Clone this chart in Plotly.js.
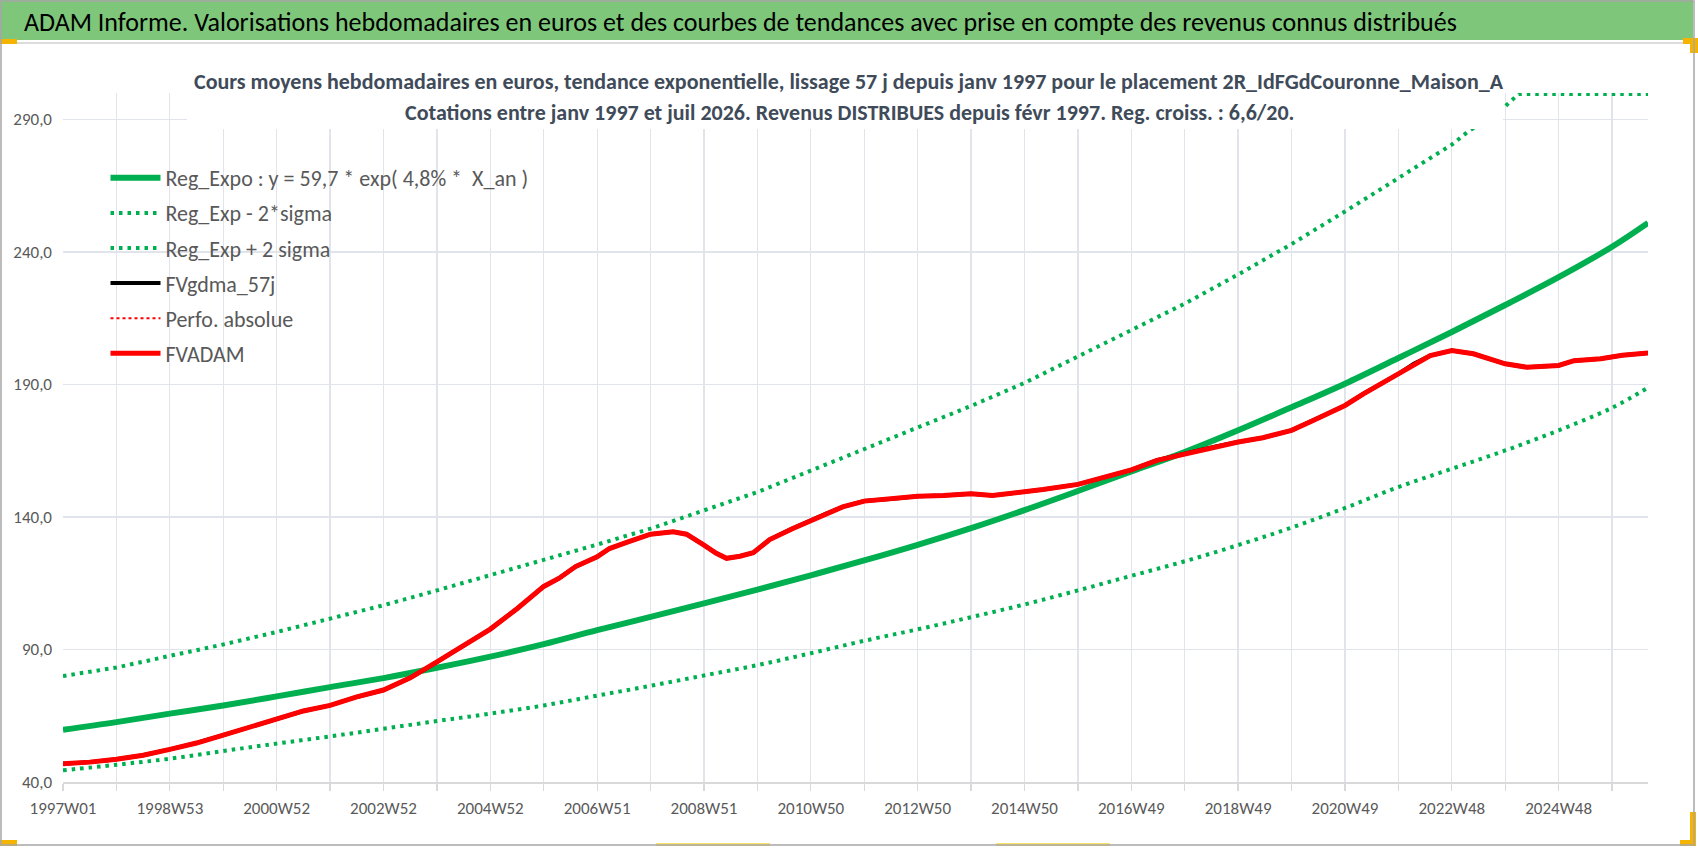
<!DOCTYPE html>
<html>
<head>
<meta charset="utf-8">
<script src="https://cdn.plot.ly/plotly-3.0.1.min.js"></script>
<style>
  html, body { margin: 0; padding: 0; background: #fff; }
  #chart { width: 1698px; height: 848px; }
</style>
</head>
<body>
<div id="chart"></div>
<script>
// x axis: one category per week since 1997W01, a label every 104 weeks
const tickLabels = ['1997W01', '1998W53', '2000W52', '2002W52', '2004W52', '2006W51', '2008W51',
   '2010W50', '2012W50', '2014W50', '2016W49', '2018W49', '2020W49', '2022W48', '2024W48'];

// trend curves, read once a year (week index)
const trendWeeks = [0, 52, 104, 156, 208, 260, 312, 364, 416, 468, 520, 572, 624, 676, 728, 780,
   832, 884, 936, 988, 1040, 1092, 1144, 1196, 1248, 1300, 1352, 1404, 1456, 1508, 1543];
const regExpo = [59.7, 62.6, 65.8, 68.9, 72.3, 75.8, 79.2, 83.1, 87.3, 92.0, 97.3, 102.3, 107.4,
   112.6, 118.0, 123.6, 129.5, 135.8, 142.6, 149.8, 157.2, 164.5, 172.7, 181.4, 190.3, 200.0,
   209.8, 220.0, 230.5, 242.0, 251.0];
const regMinus2Sigma = [44.4, 46.5, 48.8, 51.7, 54.5, 57.2, 60.1, 63.0, 65.8, 68.9, 72.6, 76.3,
   80.2, 84.1, 88.6, 93.3, 97.6, 102.2, 107.0, 112.3, 117.8, 123.3, 129.4, 136.0, 143.4, 151.3,
   158.2, 165.1, 172.7, 181.2, 188.8];

// upper band, flat where it hits the top of the axis
const upperWeeks = [0, 52, 104, 156, 208, 260, 312, 364, 416, 468, 520, 572, 624, 676, 728, 780,
   832, 884, 936, 988, 1040, 1092, 1144, 1196, 1248, 1300, 1352, 1368, 1402, 1417, 1456, 1508, 1543];
const regPlus2Sigma = [80.0, 83.2, 87.6, 91.9, 96.6, 101.6, 106.7, 112.3, 118.0, 123.6, 129.6,
   135.6, 142.5, 149.4, 157.5, 165.6, 173.8, 181.9, 190.6, 200.5, 210.5, 220.5, 231.5, 243.0,
   255.3, 267.9, 280.5, 285.5, 294.3, 299.6, 299.6, 299.6, 299.6];

// FVADAM valuation (week index / value)
const adamWeeks = [0, 26, 52, 78, 104, 130, 156, 182, 208, 234, 260, 286, 312, 338, 364, 390, 416,
   442, 468, 483, 499, 520, 532, 548, 572, 594, 607, 624, 636, 646, 659, 672, 688, 710, 728, 743,
   759, 780, 808, 832, 857, 884, 905, 936, 954, 988, 1016, 1040, 1065, 1092, 1120, 1144, 1168,
   1196, 1217, 1248, 1266, 1300, 1315, 1331, 1352, 1373, 1404, 1425, 1456, 1471, 1497, 1518, 1543];
const fvAdam = [46.9, 47.5, 48.6, 50.1, 52.3, 54.7, 57.7, 60.8, 63.8, 66.8, 68.9, 72.1, 74.7,
   79.3, 85.3, 91.3, 97.7, 105.4, 113.8, 116.9, 121.3, 125.0, 128.1, 130.3, 133.5, 134.4, 133.5,
   129.4, 126.3, 124.4, 125.2, 126.5, 131.5, 135.6, 138.8, 141.3, 143.8, 146.0, 146.9, 147.8,
   148.1, 148.8, 148.1, 149.4, 150.4, 152.3, 155.3, 157.8, 161.4, 163.9, 166.4, 168.3, 169.9,
   172.7, 176.4, 182.1, 186.5, 194.0, 197.8, 200.9, 202.8, 201.6, 197.8, 196.5, 197.2, 199.0,
   199.7, 201.0, 201.9];

const FONT = 'Calibri, Carlito, "Liberation Sans Narrow", "DejaVu Sans Condensed", sans-serif';
const W = 1698, H = 848;
const M = {l: 63, r: 50, t: 93, b: 66};

// pixel -> paper helpers for the frame decorations
function px2x(p) { return (p - M.l) / (W - M.l - M.r); }
function px2y(p) { return (H - M.b - p) / (H - M.t - M.b); }

function rect(x0, y0, x1, y1, fill, layer) {
   return {type: 'rect', xref: 'paper', yref: 'paper', layer: layer || 'above',
      x0: px2x(x0), x1: px2x(x1), y0: px2y(y1), y1: px2y(y0),
      fillcolor: fill, line: {width: 0}};
}

const GREEN = '#00b050';
const RED = '#ff0000';

const data = [
   {name: 'Reg_Expo : y = 59,7 * exp( 4,8% * \u00a0X_an )', x: trendWeeks, y: regExpo,
      line: {color: GREEN, width: 6, shape: 'spline'}, legendgroup: 'g1'},
   {name: 'Reg_Exp - 2*sigma', x: trendWeeks, y: regMinus2Sigma,
      line: {color: GREEN, width: 4, dash: '3.5px,5px', shape: 'spline'}, legendgroup: 'g2'},
   {name: 'Reg_Exp + 2 sigma', x: upperWeeks, y: regPlus2Sigma,
      line: {color: GREEN, width: 4, dash: '3.5px,5px'}, legendgroup: 'g3'},
   {name: 'FVgdma_57j', x: adamWeeks, y: fvAdam,
      line: {color: '#000000', width: 4}, legendgroup: 'g4'},
   {name: 'Perfo. absolue', x: adamWeeks, y: fvAdam,
      line: {color: RED, width: 2, dash: 'dot'}, legendgroup: 'g5'},
   {name: 'FVADAM', x: adamWeeks, y: fvAdam,
      line: {color: RED, width: 5}, legendgroup: 'g6'}
].map(t => Object.assign({type: 'scatter', mode: 'lines', hoverinfo: 'skip'}, t));

const gridColor = '#e1e4ea';
const axisColor = '#d9d9d9';

const layout = {
   width: W, height: H,
   margin: M,
   paper_bgcolor: '#ffffff',
   plot_bgcolor: '#ffffff',
   separators: ', ',
   showlegend: true,
   font: {family: FONT, color: '#595959'},
   legend: {
      x: px2x(105.5), y: px2y(157), xanchor: 'left', yanchor: 'top',
      bgcolor: 'rgba(0,0,0,0)', borderwidth: 0,
      font: {family: FONT, size: 22, color: '#595959'},
      itemwidth: 50, traceorder: 'grouped', tracegroupgap: 3.5
   },
   xaxis: {
      range: [0, 1543],
      tickmode: 'array',
      tickvals: tickLabels.map((_, i) => i * 104),
      ticktext: tickLabels,
      showgrid: true, gridcolor: gridColor, gridwidth: 1.3,
      zeroline: false,
      showline: true, linecolor: axisColor, linewidth: 2,
      ticks: 'outside', ticklen: 7, tickcolor: axisColor, tickwidth: 1.3,
      tickfont: {family: FONT, size: 17, color: '#595959'},
      ticklabelstandoff: 3,
      minor: {tickmode: 'linear', tick0: 0, dtick: 52, showgrid: true, gridcolor: gridColor,
         gridwidth: 1.3, ticks: 'outside', ticklen: 7, tickcolor: axisColor, tickwidth: 1.3}
   },
   yaxis: {
      range: [40, 300],
      tickmode: 'linear', tick0: 40, dtick: 50,
      tickformat: '.1f',
      showgrid: true, gridcolor: gridColor, gridwidth: 1.3,
      zeroline: false, showline: false, ticks: '',
      tickfont: {family: FONT, size: 17, color: '#595959'},
      ticklabelstandoff: 10
   },
   shapes: [
      rect(0, 0, 1693, 40, '#7ec77a'),
      rect(0, 42, 1693, 44, '#dcdcdc'),
      // chart title box sits over the plot area
      rect(187, 58, 1503, 129, '#ffffff'),
      // selection handles left by the spreadsheet
      rect(0, 39, 17, 44, '#f5b400'),
      rect(0, 840, 17, 846, '#f5b400'),
      rect(1683, 38, 1698, 44, '#f5b400'),
      rect(1690, 44, 1698, 53, '#f5b400'),
      rect(1690, 812, 1696, 846, '#f5b400'),
      rect(1680, 840, 1696, 846, '#f5b400'),
      rect(656, 843, 770, 846, '#f7e26b'),
      rect(996, 843, 1110, 846, '#f7e26b'),
      {type: 'rect', xref: 'paper', yref: 'paper', layer: 'above',
         x0: px2x(1), x1: px2x(1694), y0: px2y(845), y1: px2y(1),
         line: {color: '#a6a6a6', width: 1.5}}
   ],
   annotations: [
      {text: 'ADAM Informe. Valorisations hebdomadaires en euros et des courbes de tendances avec prise en compte des revenus connus distribués',
         xref: 'paper', yref: 'paper', x: px2x(22), y: px2y(22), xanchor: 'left', yanchor: 'middle',
         showarrow: false, font: {family: FONT, size: 26, color: '#000000'}},
      {text: '<b>Cours moyens hebdomadaires en euros, tendance exponentielle, lissage 57 j depuis janv 1997 pour le placement 2R_IdFGdCouronne_Maison_A</b>',
         xref: 'paper', yref: 'paper', x: px2x(849), y: px2y(82), xanchor: 'center', yanchor: 'middle',
         showarrow: false, font: {family: FONT, size: 22, color: '#404b5a'}},
      {text: '<b>Cotations entre janv 1997 et juil 2026. Revenus DISTRIBUES depuis févr 1997. Reg. croiss. : 6,6/20.</b>',
         xref: 'paper', yref: 'paper', x: px2x(849), y: px2y(112), xanchor: 'center', yanchor: 'middle',
         showarrow: false, font: {family: FONT, size: 22, color: '#404b5a'}}
   ]
};

Plotly.newPlot('chart', data, layout, {staticPlot: true, displayModeBar: false});
</script>
</body>
</html>
